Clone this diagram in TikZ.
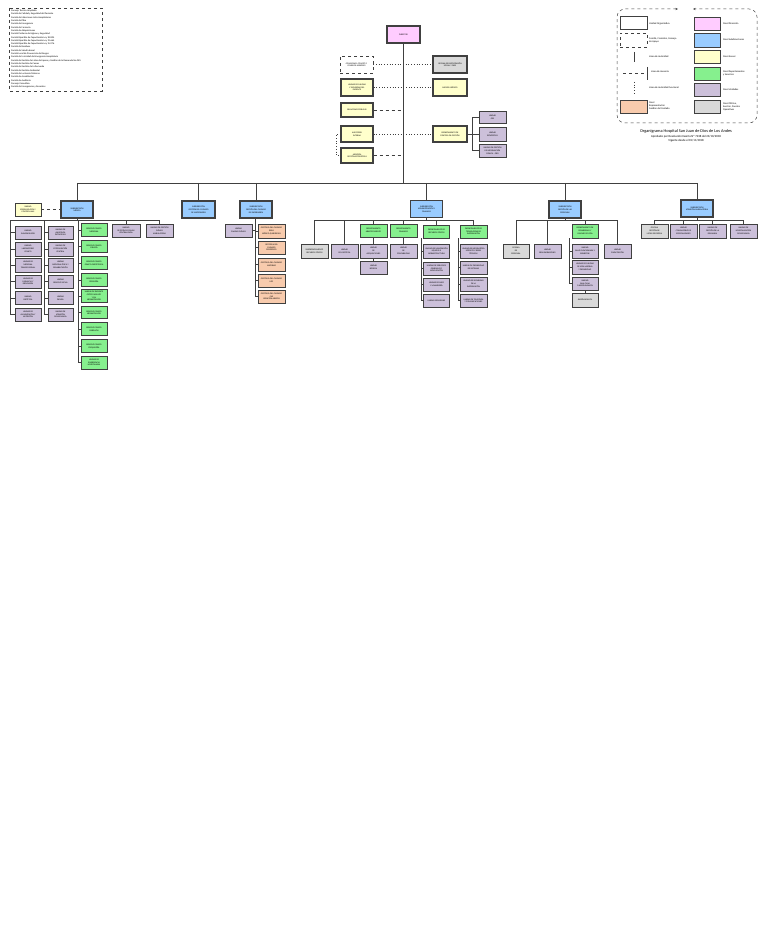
\documentclass[tikz,border=0pt]{standalone}
\usepackage{fontspec}
\setmainfont{Carlito}
\usetikzlibrary{arrows.meta}
\definecolor{cpink}{HTML}{FFCCFF}
\definecolor{cblue}{HTML}{99CCFF}
\definecolor{cyel}{HTML}{FFFFCC}
\definecolor{cgreen}{HTML}{86F08E}
\definecolor{cpur}{HTML}{CCC0DA}
\definecolor{cgray}{HTML}{D9D9D9}
\definecolor{cpeach}{HTML}{F8CBAD}
\definecolor{cbd}{HTML}{404040}
\newcommand\bxf{\fontsize{2.1}{2.7}\selectfont}
\newcommand\lgf{\fontsize{2.5}{3.1}\selectfont}
\tikzset{
  bx/.style={draw=cbd, line width=0.9pt, inner sep=0.3pt, align=center, font=\bxf, minimum width=27pt, minimum height=13.5pt},
  sdbox/.style={bx, fill=cblue, line width=1.5pt, minimum width=32pt, minimum height=17pt},
  ybox/.style={bx, fill=cyel, line width=1.3pt, minimum width=32pt},
  gbox/.style={bx, fill=cgreen},
  pbox/.style={bx, fill=cpur},
  grbox/.style={bx, fill=cgray},
  pcbox/.style={bx, fill=cpeach},
  ln/.style={draw=cbd, line width=0.7pt},
  dotln/.style={draw=cbd, line width=0.7pt, dotted},
  dashln/.style={draw=cbd, line width=0.9pt, dashed},
  lgt/.style={anchor=west, align=left, font=\lgf, inner sep=0}
}
\begin{document}
\begin{tikzpicture}[x=1pt,y=-1pt]
\useasboundingbox (0,0) rectangle (768,928);
\fill[white] (0,0) rectangle (768,928);

% ---------- committees list ----------
\draw[cbd, dashed, line width=0.5pt] (9,8) rectangle (102,91);
\node[anchor=north west, align=left, inner sep=0, font=\fontsize{2.4}{3.33}\selectfont] (lst) at (11,9.5) {Consejo Técnico Ampliado\\
Comité de Calidad y Seguridad del Paciente\\
Comité de Infecciones Intra Hospitalarias\\
Comité de Ética\\
Comité de Emergencia\\
Comité de Farmacia\\
Comité de Adquisiciones\\
Comité Paritario de Higiene y Seguridad\\
Comité Bipartito de Capacitación Ley 18.834\\
Comité Bipartito de Capacitación Ley 19.664\\
Comité Bipartito de Capacitación Ley 15.076\\
Comité de Residuos\\
Comité de Salud Laboral\\
Comité Local de Prevención de Riesgos\\
Comité de la Unidad de Emergencia Hospitalaria\\
Comité de Gestión de Listas de Espera y Gestión de la Demanda No GES\\
Comité de Gestión de Camas\\
Comité de Gestión de la Demanda\\
Comité de Gestión Ambiental\\
Comité de Lactancia Materna\\
Comité de Acreditación\\
Comité de Auditoría\\
Consejo Consultivo\\
Comité de Emergencias y Desastres};

% ---------- legend ----------
\draw[cbd, dashed, line width=0.5pt, rounded corners=8pt, {Stealth[length=2.5pt,width=2pt]}-{Stealth[length=2.5pt,width=2pt]}] (678,9) -- (617,9) -- (617,123) -- (757,123) -- (757,9) -- (693,9);
\node[bx, fill=white, line width=1pt, minimum width=27pt, minimum height=13pt] (lg1) at (633.5,23.5) {};
\node[lgt] at (649,23.5) {Unidad Organizativa};
\node[bx, fill=white, dashed, line width=0.5pt, minimum width=27pt, minimum height=14pt] (lg2) at (633.5,40) {};
\node[lgt] at (649,40) {Comité, Comisión, Consejo\\de Apoyo};
\draw[ln, line width=0.9pt] (634,52) -- (634,62);
\node[lgt] at (649,57) {Línea de Autoridad};
\draw[dashln] (623,73) -- (645,73);
\draw[ln, line width=0.9pt] (647,67) -- (647,80);
\node[lgt] at (651,72) {Línea de Asesoría};
\draw[dotln, line width=0.9pt] (634,82) -- (634,95);
\node[lgt] at (649,88) {Línea de Autoridad Funcional};
\node[pcbox, minimum width=27pt, minimum height=13pt] (lg3) at (633.5,106.5) {};
\node[lgt] at (649,105.5) {Nivel\\Representación\\Gestión del Cuidado};
\node[bx, fill=cpink, minimum width=26pt, minimum height=13pt] (lr1) at (707,23.5) {};
\node[lgt] at (723,23.5) {Nivel Dirección};
\node[bx, fill=cblue, minimum width=26pt, minimum height=14pt] (lr2) at (707,40) {};
\node[lgt] at (723,40) {Nivel Subdirecciones};
\node[bx, fill=cyel, minimum width=26pt, minimum height=13pt] (lr3) at (707,56.5) {};
\node[lgt] at (723,56.5) {Nivel Asesor};
\node[bx, fill=cgreen, minimum width=26pt, minimum height=13pt] (lr4) at (707,73.5) {};
\node[lgt] at (723,73.5) {Nivel Departamentos\\y Servicios};
\node[bx, fill=cpur, minimum width=26pt, minimum height=13pt] (lr5) at (707,89.5) {};
\node[lgt] at (723,89.5) {Nivel Unidades};
\node[bx, fill=cgray, minimum width=26pt, minimum height=13pt] (lr6) at (707,106.5) {};
\node[lgt] at (723,106.5) {Nivel Oficina,\\Sección, Puestos\\Operativos};
\node[font=\fontsize{4.3}{5}\selectfont, inner sep=0] (tit) at (686,131.5) {Organigrama Hospital San Juan de Dios de Los Andes};
\node[font=\fontsize{3}{3.6}\selectfont, inner sep=0] (tit2) at (686,136.3) {Aprobado por Resolución Exenta Nº 7238 del 23/10/2018};
\node[font=\fontsize{3}{3.6}\selectfont, inner sep=0] (tit3) at (686,140.3) {Vigente desde el 01/11/2018};

% ---------- direction ----------
\node[bx, fill=cpink, line width=1.6pt, minimum width=33pt, minimum height=17pt] (dir) at (403.5,34.5) {DIRECTOR};
\coordinate (bus) at (403.5,183);
\draw[ln] (dir.south) -- (bus);

\node[bx, fill=white, dashed, line width=0.6pt, minimum width=33pt, minimum height=17pt] (com) at (356.5,64.5) {COMISIONES, COMITÉS Y\\CONSEJOS ASESORES};
\node[grbox, line width=1.4pt, minimum width=34pt, minimum height=17pt] (oirs) at (450,64.5) {OFICINA DE PARTICIPACIÓN\\SOCIAL Y OIRS};
\draw[dotln] (com.east) -- (oirs.west);

\node[ybox, minimum height=17pt] (cal) at (357,87.5) {UNIDAD DE CALIDAD\\Y SEGURIDAD DEL\\PACIENTE};
\node[ybox, minimum width=34pt, minimum height=17pt] (jur) at (450,87.5) {ASESOR JURÍDICO};
\draw[dotln] (cal.east) -- (jur.west);

\node[ybox, minimum height=14pt] (rrpp) at (357,110) {RELACIONES PÚBLICAS};
\draw[dashln] (rrpp.east) -- (rrpp.east -| bus);

\node[ybox, minimum height=16pt] (aud) at (357,134) {AUDITORÍA\\INTERNA};
\node[ybox, minimum width=34pt, minimum height=16pt] (ctrl) at (450,134) {DEPARTAMENTO DE\\CONTROL DE GESTIÓN};
\draw[dotln] (aud.east) -- (ctrl.west);

\node[ybox, minimum height=15pt] (ase) at (357,155.5) {ASESORÍA\\GESTIÓN ESTRATÉGICA};
\draw[dashln] (ase.east) -- (ase.east -| bus);
\draw[dotln, line width=0.9pt] (aud.west) -- ++(-4,0) |- (ase.west);

\node[pbox, minimum height=12pt] (u1) at (492.5,117) {UNIDAD\\GES};
\node[pbox, minimum height=14pt] (u2) at (492.5,134) {UNIDAD\\ESTADÍSTICA};
\node[pbox, minimum height=13pt] (u3) at (492.5,150.5) {UNIDAD DE GESTIÓN\\DE INFORMACIÓN\\CLÍNICA - GRD};
\coordinate (cb) at (472.5,134);
\draw[ln] (ctrl.east) -- (cb);
\draw[ln] (u1.west) -- (u1.west -| cb) -- (u3.west -| cb) -- (u3.west);
\draw[ln] (u2.west) -- (u2.west -| cb);

% ---------- subdirections ----------
\node[sdbox] (sd1) at (77,209.5) {SUBDIRECCIÓN\\MÉDICA};
\node[sdbox, minimum width=33pt] (sd2) at (198.5,209.5) {SUBDIRECCIÓN\\GESTIÓN DEL CUIDADO\\DE MATRONERÍA};
\node[sdbox] (sd3) at (256,209.5) {SUBDIRECCIÓN\\GESTIÓN DEL CUIDADO\\DE ENFERMERÍA};
\node[sdbox] (sd4) at (426.5,209) {SUBDIRECCIÓN\\ADMINISTRACIÓN Y\\FINANZAS};
\node[sdbox] (sd5) at (565,209.5) {SUBDIRECCIÓN\\GESTIÓN DE LAS\\PERSONAS};
\node[sdbox] (sd6) at (697,208.5) {SUBDIRECCIÓN\\ATENCIÓN AMBULATORIA};
\draw[ln] (sd1.north |- bus) -- (sd6.north |- bus);
\foreach \s in {sd1,sd2,sd3,sd4,sd5,sd6} {\draw[ln] (\s.north |- bus) -- (\s.north);}

% ---------- SD1 ----------
\node[ybox, line width=0.9pt, minimum width=26pt, minimum height=13pt] (ct) at (28,209.5) {UNIDAD\\EPIDEMIOLOGÍA Y\\CONTROL IAAS};
\draw[dashln] (ct.east) -- (sd1.west);
\coordinate (h1) at (77,220);
\coordinate (br1) at (10,220);
\coordinate (br2) at (44.5,220);
\coordinate (br3) at (78,220);
\draw[ln] (sd1.south) -- (h1);
\node[pbox, minimum width=26pt, minimum height=13pt] (c1a) at (28,232.5) {UNIDAD\\IMAGENOLOGÍA};
\node[pbox, minimum width=26pt, minimum height=14pt] (c1b) at (28,249) {UNIDAD\\LABORATORIO\\CLÍNICO};
\node[pbox, minimum width=26pt, minimum height=14pt] (c1c) at (28,265) {UNIDAD DE\\MEDICINA\\TRANSFUSIONAL};
\node[pbox, minimum width=26pt, minimum height=13pt] (c1d) at (28,281.5) {UNIDAD DE\\FARMACIA Y\\DROGUERÍA};
\node[pbox, minimum width=26pt, minimum height=13pt] (c1e) at (28,298) {UNIDAD\\DIETÉTICA};
\node[pbox, minimum width=26pt, minimum height=13pt] (c1f) at (28,314.5) {UNIDAD DE\\ALIMENTACIÓN Y\\NUTRICIÓN};
\node[pbox, minimum width=25pt, minimum height=13pt] (c2a) at (60.5,232.5) {UNIDAD DE\\ANATOMÍA\\PATOLÓGICA};
\node[pbox, minimum width=25pt, minimum height=14pt] (c2b) at (60.5,249) {UNIDAD DE\\ESTERILIZACIÓN\\CENTRAL};
\node[pbox, minimum width=25pt, minimum height=14pt] (c2c) at (60.5,265) {UNIDAD\\MEDICINA FÍSICA Y\\REHABILITACIÓN};
\node[pbox, minimum width=25pt, minimum height=13pt] (c2d) at (60.5,281.5) {UNIDAD\\SERVICIO SOCIAL};
\node[pbox, minimum width=25pt, minimum height=13pt] (c2e) at (60.5,298) {UNIDAD\\DENTAL};
\node[pbox, minimum width=25pt, minimum height=13pt] (c2f) at (60.5,314.5) {UNIDAD DE\\ATENCIÓN\\DOMICILIARIA};
\node[gbox, minimum width=26pt, minimum height=12.5pt] (c3a) at (94,230) {SERVICIO CLÍNICO\\MEDICINA};
\node[gbox, minimum width=26pt, minimum height=12.5pt] (c3b) at (94,246.5) {SERVICIO CLÍNICO\\CIRUGÍA};
\node[gbox, minimum width=26pt, minimum height=12.5pt] (c3c) at (94,263) {SERVICIO CLÍNICO\\GINECO-OBSTETRICIA};
\node[gbox, minimum width=26pt, minimum height=12.5pt] (c3d) at (94,280) {SERVICIO CLÍNICO\\PEDIATRÍA};
\node[gbox, minimum width=26pt, minimum height=12.5pt] (c3e) at (94,296) {UNIDAD DE PACIENTE\\CRÍTICO ADULTO\\Y SAI\\NEONATOLOGÍA};
\node[gbox, minimum width=26pt, minimum height=12.5pt] (c3f) at (94,312.5) {SERVICIO CLÍNICO\\NEONATOLOGÍA};
\node[gbox, minimum width=26pt, minimum height=12.5pt] (c3g) at (94,329) {SERVICIO CLÍNICO\\PABELLÓN};
\node[gbox, minimum width=26pt, minimum height=12.5pt] (c3h) at (94,346) {SERVICIO CLÍNICO\\PSIQUIATRÍA};
\node[gbox, minimum width=26pt, minimum height=13pt] (c3i) at (94,362.5) {UNIDAD DE\\EMERGENCIA\\HOSPITALARIA};
\node[pbox, minimum width=28pt, minimum height=13pt] (t1) at (126,230.5) {UNIDAD\\GESTIÓN DE CAMAS\\CENTRALIZADA};
\node[pbox, minimum width=27pt, minimum height=13pt] (t2) at (159.5,230.5) {UNIDAD DE GESTIÓN\\CLÍNICA\\AMBULATORIA};
\draw[ln] (br1) -- (t2.north |- br1) -- (t2.north);
\draw[ln] (t1.north |- br1) -- (t1.north);
\draw[ln] (br1) |- (c1f.west);
\draw[ln] (br2) |- (c2f.west);
\draw[ln] (br3) |- (c3i.west);
\foreach \n in {a,b,c,d,e} {\draw[ln] (c1\n.west) -- (c1\n.west -| br1); \draw[ln] (c2\n.west) -- (c2\n.west -| br2);}
\foreach \n in {a,b,c,d,e,f,g,h} {\draw[ln] (c3\n.west) -- (c3\n.west -| br3);}

% ---------- SD3 ----------
\coordinate (v3) at (255,220);
\node[pbox, minimum width=27pt, minimum height=13pt] (e0) at (238.5,230.5) {UNIDAD\\CALIDAD CLÍNICA};
\node[pcbox, minimum width=27pt, minimum height=14pt] (e1) at (271.5,231) {GESTOR/A DEL CUIDADO\\ÁREA\\MÉDICO-QUIRÚRGICA};
\node[pcbox, minimum width=27pt, minimum height=13pt] (e2) at (271.5,247.5) {GESTOR/A DEL\\CUIDADO\\PEDIÁTRICO};
\node[pcbox, minimum width=27pt, minimum height=13pt] (e3) at (271.5,264.5) {GESTOR/A DEL CUIDADO\\MATERNO};
\node[pcbox, minimum width=27pt, minimum height=13pt] (e4) at (271.5,280.5) {GESTOR/A DEL CUIDADO\\UPC};
\node[pcbox, minimum width=27pt, minimum height=13pt] (e5) at (271.5,296.5) {GESTOR/A DEL CUIDADO\\CAE\\ATENCIÓN ABIERTA};
\draw[ln] (sd3.south -| v3) |- (e5.west);
\draw[ln] (e0.east) -- (e0.east -| v3);
\foreach \n in {e1,e2,e3,e4} {\draw[ln] (\n.west) -- (\n.west -| v3);}

% ---------- SD4 ----------
\coordinate (h4) at (426.5,220);
\draw[ln] (sd4.south) -- (h4);
\node[grbox, minimum width=27pt, minimum height=14pt] (f1) at (314.5,251) {SUBDEPARTAMENTO\\RECURSOS FÍSICOS};
\node[pbox, minimum width=27pt, minimum height=14pt] (f2) at (344.5,251) {UNIDAD\\DE LOGÍSTICA};
\node[gbox, minimum width=27pt, minimum height=13pt] (f3) at (373.5,230.5) {DEPARTAMENTO\\ABASTECIMIENTO};
\node[pbox, minimum width=27pt, minimum height=14pt] (f3a) at (373.5,251) {UNIDAD\\DE\\ADQUISICIONES};
\node[pbox, minimum width=27pt, minimum height=13pt] (f3b) at (373.5,267.5) {UNIDAD\\BODEGA};
\node[gbox, minimum width=27pt, minimum height=13pt] (f4) at (403.5,230.5) {DEPARTAMENTO\\FINANZAS};
\node[pbox, minimum width=27pt, minimum height=14pt] (f4a) at (403.5,251) {UNIDAD\\DE\\CONTABILIDAD};
\node[gbox, minimum width=26pt, minimum height=13pt] (f5) at (436.5,231.5) {DEPARTAMENTO DE\\RECURSOS FÍSICOS};
\node[pbox, minimum width=26pt, minimum height=14pt] (f5a) at (436.5,251) {UNIDAD DE MANTENCIÓN\\EQUIPOS E\\INFRAESTRUCTURA};
\node[pbox, minimum width=26pt, minimum height=13pt] (f5b) at (436.5,268.5) {UNIDAD DE SERVICIOS\\GENERALES Y\\MOVILIZACIÓN};
\node[pbox, minimum width=26pt, minimum height=13pt] (f5c) at (436.5,284.5) {UNIDAD DE ASEO\\Y LAVANDERÍA};
\node[pbox, minimum width=26pt, minimum height=13pt] (f5d) at (436.5,300.5) {UNIDAD SEGURIDAD};
\node[gbox, minimum width=27pt, minimum height=13pt] (f6) at (473.5,231.5) {DEPARTAMENTO DE\\TECNOLOGÍAS DE\\INFORMACIÓN};
\node[pbox, minimum width=27pt, minimum height=14pt] (f6a) at (473.5,251) {UNIDAD DE INFORMÁTICA\\SOPORTE Y REDES\\TÉCNICAS};
\node[pbox, minimum width=27pt, minimum height=13pt] (f6b) at (473.5,267.5) {UNIDAD DE DESARROLLO\\DE SISTEMAS};
\node[pbox, minimum width=27pt, minimum height=14pt] (f6c) at (473.5,284) {UNIDAD DE SEGURIDAD\\DE LA\\INFORMACIÓN};
\node[pbox, minimum width=27pt, minimum height=13pt] (f6d) at (473.5,300.5) {UNIDAD DE TELEFONÍA\\Y COMUNICACIONES};
\draw[ln] (f1.north |- h4) -- (f6.north |- h4);
\foreach \n in {f1,f2,f3,f4,f5,f6} {\draw[ln] (\n.north |- h4) -- (\n.north);}
\draw[ln] (f3.south) -- (f3a.north);
\draw[ln] (f3a.south) -- (f3b.north);
\draw[ln] (f4.south) -- (f4a.north);
\coordinate (b5) at (421.5,238);
\coordinate (b6) at (458.5,238);
\draw[ln] (b5) |- (f5d.west);
\draw[ln] (b6) |- (f6d.west);
\foreach \n in {a,b,c} {\draw[ln] (f5\n.west) -- (f5\n.west -| b5); \draw[ln] (f6\n.west) -- (f6\n.west -| b6);}

% ---------- SD5 ----------
\coordinate (h5) at (565,220);
\draw[ln] (sd5.south) -- (h5);
\node[grbox, minimum width=26pt, minimum height=14pt] (g1) at (516,251) {OFICINA\\DE\\PERSONAL};
\node[pbox, minimum width=27pt, minimum height=14pt] (g2) at (547.5,251) {UNIDAD\\REMUNERACIONES};
\node[gbox, minimum width=26pt, minimum height=14pt] (g3) at (585,231) {DEPARTAMENTO DE\\DESARROLLO Y\\CALIDAD DE VIDA};
\node[pbox, minimum width=27pt, minimum height=14pt] (g4) at (617.5,251) {UNIDAD\\CAPACITACIÓN};
\node[pbox, minimum width=26pt, minimum height=14pt] (g3a) at (585,251) {UNIDAD\\SALUD FUNCIONARIA Y\\BIENESTAR};
\node[pbox, minimum width=26pt, minimum height=14pt] (g3b) at (585,267) {UNIDAD DE CALIDAD\\DE VIDA LABORAL\\Y DESARROLLO};
\node[pbox, minimum width=26pt, minimum height=13pt] (g3c) at (585,283.5) {UNIDAD\\SALA CUNA\\Y JARDÍN INFANTIL};
\node[grbox, minimum width=26pt, minimum height=14pt] (g3d) at (585,300) {JARDÍN INFANTIL};
\draw[ln] (g1.north |- h5) -- (g4.north |- h5);
\foreach \n in {g1,g2,g3,g4} {\draw[ln] (\n.north |- h5) -- (\n.north);}
\coordinate (b7) at (569.5,238);
\draw[ln] (b7) |- (g3c.west);
\draw[ln] (g3a.west) -- (g3a.west -| b7);
\draw[ln] (g3b.west) -- (g3b.west -| b7);
\draw[ln] (g3c.south) -- (g3d.north);

% ---------- SD6 ----------
\coordinate (h6) at (697,220);
\draw[ln] (sd6.south) -- (h6);
\node[grbox, minimum width=27pt, minimum height=14pt] (k1) at (654.5,231) {OFICINA\\GESTIÓN DE\\LISTAS DE ESPERA};
\node[pbox, minimum width=27pt, minimum height=14pt] (k2) at (683.5,231) {UNIDAD\\CONSULTORIO DE\\ESPECIALIDADES};
\node[pbox, minimum width=27pt, minimum height=14pt] (k3) at (712.5,231) {UNIDAD DE\\GESTIÓN DE LA\\DEMANDA};
\node[pbox, minimum width=27pt, minimum height=14pt] (k4) at (743.5,231) {UNIDAD DE\\HOSPITALIZACIÓN\\DOMICILIARIA};
\draw[ln] (k1.north |- h6) -- (k4.north |- h6);
\foreach \n in {k1,k2,k3,k4} {\draw[ln] (\n.north |- h6) -- (\n.north);}
\end{tikzpicture}
\end{document}
